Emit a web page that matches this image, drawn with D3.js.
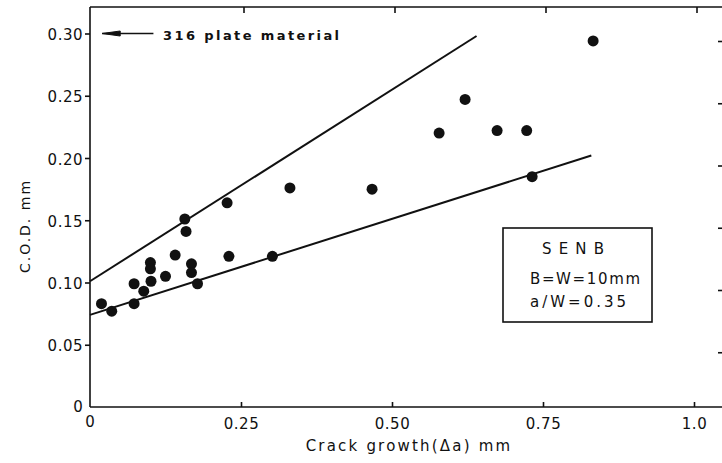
<!DOCTYPE html>
<html>
<head>
<meta charset="utf-8">
<script src="https://cdn.jsdelivr.net/npm/d3@7"></script>
<style>
  body { margin: 0; background: #fff; }
  text { font-family: "DejaVu Sans", sans-serif; fill: #111; }
</style>
</head>
<body>
<div id="chart"></div>
<script>
// crack growth (mm) vs C.O.D. (mm)
const crackGrowth = [0.019, 0.036, 0.073, 0.073, 0.089, 0.100, 0.100, 0.101, 0.125, 0.141,
                     0.157, 0.159, 0.168, 0.168, 0.178, 0.227, 0.230, 0.302, 0.331, 0.467,
                     0.578, 0.621, 0.674, 0.723, 0.732, 0.833];
const cod = [0.083, 0.077, 0.083, 0.099, 0.093, 0.116, 0.111, 0.101, 0.105, 0.122,
             0.151, 0.141, 0.115, 0.108, 0.099, 0.164, 0.121, 0.121, 0.176, 0.175,
             0.220, 0.247, 0.222, 0.222, 0.185, 0.294];

// bounding lines [x0, y0, x1, y1]
const upperLine = [0, 0.101, 0.640, 0.298];
const lowerLine = [0, 0.074, 0.830, 0.202];

const xTicks = [0.25, 0.5, 0.75, 1.0];
const xTickLabels = ["0.25", "0.50", "0.75", "1.0"];
const yTicks = [0.05, 0.10, 0.15, 0.20, 0.25, 0.30];
const yTickLabels = ["0.05", "0.10", "0.15", "0.20", "0.25", "0.30"];

const legendLines = ["SENB", "B=W=10mm", "a/W=0.35"];

const W = 722, H = 463;
const MARGIN = {LEFT: 90, TOP: 7, BOTTOM: 56};

const svg = d3.select("#chart").append("svg")
    .attr("width", W)
    .attr("height", H);

const x = d3.scaleLinear().domain([0, 1]).range([MARGIN.LEFT, MARGIN.LEFT + 604]);
const y = d3.scaleLinear().domain([0, 0.3]).range([H - MARGIN.BOTTOM, H - MARGIN.BOTTOM - 373.5]);

const ink = "#111";

// frame: left, bottom, top
svg.append("line").attr("x1", x(0)).attr("x2", x(0)).attr("y1", MARGIN.TOP).attr("y2", y(0))
    .attr("stroke", ink).attr("stroke-width", 1.6);
svg.append("line").attr("x1", x(0)).attr("x2", W).attr("y1", y(0)).attr("y2", y(0))
    .attr("stroke", ink).attr("stroke-width", 1.6);
svg.append("line").attr("x1", x(0)).attr("x2", W).attr("y1", MARGIN.TOP).attr("y2", MARGIN.TOP)
    .attr("stroke", ink).attr("stroke-width", 1.6);

// y axis (ticks outward)
const yAxis = d3.axisLeft(y).tickValues(yTicks).tickSize(5).tickFormat((d, i) => yTickLabels[i]);
const gy = svg.append("g").attr("transform", `translate(${x(0)},0)`).call(yAxis);
gy.select(".domain").remove();
gy.selectAll("line").attr("stroke", ink).attr("stroke-width", 1.6);
gy.selectAll("text").attr("x", -7).attr("dy", "0.4em")
    .style("font-size", "15px").style("letter-spacing", "0.5px");

// x axis (ticks inward)
const xAxis = d3.axisBottom(x).tickValues(xTicks).tickSize(-5).tickFormat((d, i) => xTickLabels[i]);
const gx = svg.append("g").attr("transform", `translate(0,${y(0)})`).call(xAxis);
gx.select(".domain").remove();
gx.selectAll("line").attr("stroke", ink).attr("stroke-width", 1.6);
gx.selectAll("text").attr("y", 10).attr("dy", "0.8em")
    .style("font-size", "15px").style("letter-spacing", "0.5px");

// top ticks
svg.append("g").selectAll("line").data(xTicks).join("line")
    .attr("x1", d => x(d) + 3).attr("x2", d => x(d) + 3)
    .attr("y1", MARGIN.TOP).attr("y2", MARGIN.TOP + 6)
    .attr("stroke", ink).attr("stroke-width", 1.6);

// right-hand ticks (cut off at page edge)
svg.append("g").attr("transform", "translate(0,8)").selectAll("line").data(yTicks).join("line")
    .attr("x1", W - 4).attr("x2", W).attr("y1", d => y(d)).attr("y2", d => y(d))
    .attr("stroke", ink).attr("stroke-width", 1.6);

// zero labels
svg.append("text").attr("x", x(0) - 12).attr("y", y(0) + 5).attr("text-anchor", "middle")
    .style("font-size", "15px").text("0");
svg.append("text").attr("x", x(0)).attr("y", y(0) + 20).attr("text-anchor", "middle")
    .style("font-size", "15px").text("0");

// axis titles
svg.append("text").attr("x", 409).attr("y", 451).attr("text-anchor", "middle")
    .style("font-size", "15px").style("letter-spacing", "2.2px")
    .text("Crack growth(Δa) mm");
svg.append("text").attr("transform", "translate(30,226) rotate(-90)").attr("text-anchor", "middle")
    .style("font-size", "14px").style("letter-spacing", "2px")
    .text("C.O.D.  mm");

// bounding lines
[upperLine, lowerLine].forEach(l => {
  svg.append("line")
      .attr("x1", x(l[0])).attr("y1", y(l[1]))
      .attr("x2", x(l[2])).attr("y2", y(l[3]))
      .attr("stroke", ink).attr("stroke-width", 2);
});

// data points
svg.append("g").selectAll("circle").data(crackGrowth).join("circle")
    .attr("cx", d => x(d))
    .attr("cy", (d, i) => y(cod[i]))
    .attr("r", 5.5)
    .attr("fill", ink);

// annotation arrow at 0.30
const ay = y(0.30);
svg.append("line").attr("x1", x(0.02)).attr("x2", x(0.105)).attr("y1", ay).attr("y2", ay)
    .attr("stroke", ink).attr("stroke-width", 1.6);
svg.append("path")
    .attr("d", `M${x(0.02)},${ay} L${x(0.05)},${ay - 2.5} L${x(0.05)},${ay + 2.5} Z`)
    .attr("fill", ink).attr("stroke", ink).attr("stroke-width", 1);
svg.append("text").attr("x", x(0.121)).attr("y", ay + 6)
    .style("font-size", "13px").style("font-weight", "bold").style("letter-spacing", "2.4px")
    .text("316 plate material");

// legend box
svg.append("rect").attr("x", 503).attr("y", 228).attr("width", 149).attr("height", 94)
    .attr("fill", "none").attr("stroke", ink).attr("stroke-width", 1.6);
svg.append("g").selectAll("text").data(legendLines).join("text")
    .attr("x", (d, i) => [542, 530, 530][i])
    .attr("y", (d, i) => [254, 284, 307][i])
    .attr("textLength", (d, i) => [62, 110, 96][i])
    .attr("lengthAdjust", "spacing")
    .style("font-size", "15px")
    .text(d => d);
</script>
</body>
</html>
